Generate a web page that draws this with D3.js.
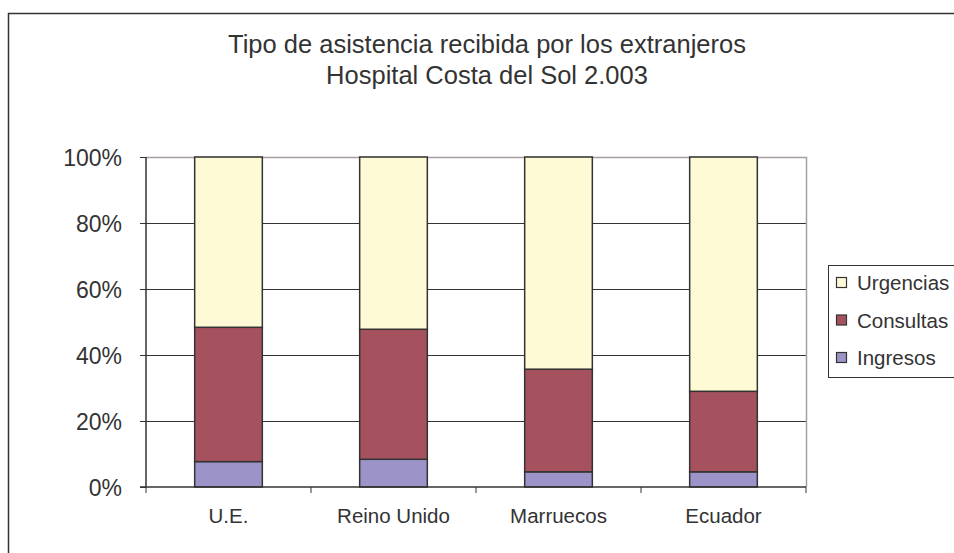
<!DOCTYPE html>
<html><head><meta charset="utf-8">
<script src="https://cdn.jsdelivr.net/npm/d3@7"></script>
<style>body{margin:0;background:#fff}svg{display:block}text{font-family:"Liberation Sans",Arial,sans-serif;fill:#333}</style>
</head><body>
<script>
const categories = ["U.E.", "Reino Unido", "Marruecos", "Ecuador"];
const seriesNames = ["Ingresos", "Consultas", "Urgencias"];
const ingresos = [7.7, 8.4, 4.6, 4.6];
const consultas = [40.7, 39.4, 31.1, 24.4];
const urgencias = [51.6, 52.2, 64.3, 71.0];
const yTicks = [0, 0.2, 0.4, 0.6, 0.8, 1.0];
const titleLines = ["Tipo de asistencia recibida por los extranjeros", "Hospital Costa del Sol 2.003"];
const colors = {"Ingresos": "#9c94c8", "Consultas": "#a5525e", "Urgencias": "#fffad6"};

const W = 954, H = 553;
const svg = d3.select("body").append("svg").attr("width", W).attr("height", H);

// outer frame
svg.append("rect").attr("x", 8.5).attr("y", 13.5).attr("width", 1000).attr("height", 600)
  .attr("fill", "#fff").attr("stroke", "#333").attr("stroke-width", 1.5);

const m = {left: 146, right: 806, top: 157, bottom: 487};
const x = d3.scaleBand().domain(categories).range([m.left, m.right]).paddingInner(0.59).paddingOuter(0.295);
const xb = d3.scaleBand().domain(categories).range([m.left, m.right]);
const y = d3.scaleLinear().domain([0, 1]).range([m.bottom, m.top]);

// gridlines
svg.append("g").selectAll("line").data(yTicks.slice(1, -1)).join("line")
  .attr("x1", m.left).attr("x2", m.right).attr("y1", d => y(d) + 0.5).attr("y2", d => y(d) + 0.5)
  .attr("stroke", "#333").attr("stroke-width", 1);

// plot border top/right
svg.append("path").attr("d", `M${m.left},${m.top + 0.5}H${m.right + 0.5}V${m.bottom}`)
  .attr("fill", "none").attr("stroke", "#a69e9e").attr("stroke-width", 1.5);

// stacked data
const rows = categories.map((c, i) => ({cat: c, Ingresos: ingresos[i] / 100, Consultas: consultas[i] / 100, Urgencias: urgencias[i] / 100}));
const stack = d3.stack().keys(seriesNames)(rows);
svg.append("g").selectAll("g").data(stack).join("g").attr("fill", d => colors[d.key])
  .selectAll("rect").data(d => d).join("rect")
  .attr("x", d => x(d.data.cat)).attr("width", x.bandwidth())
  .attr("y", d => y(d[1])).attr("height", d => y(d[0]) - y(d[1]))
  .attr("stroke", "#333").attr("stroke-width", 1.5);

// y axis
const yAxis = d3.axisLeft(y).tickValues(yTicks).tickFormat(d3.format(".0%")).tickSize(6).tickPadding(18);
const gy = svg.append("g").attr("transform", `translate(${m.left},0)`).call(yAxis);
gy.select(".domain").attr("stroke", "#333").attr("stroke-width", 1.5).attr("d", `M0,${m.top}V${m.bottom}`);
gy.selectAll(".tick line").attr("stroke", "#333");
gy.selectAll("text").attr("font-size", "23px").attr("font-family", "Liberation Sans, Arial").attr("fill", "#333").attr("dy", "0.36em");

// x axis
const gx = svg.append("g").attr("transform", `translate(0,${m.bottom})`);
gx.append("line").attr("x1", m.left - 6).attr("x2", m.right).attr("y1", 0).attr("y2", 0).attr("stroke", "#333").attr("stroke-width", 1.5);
const bounds = categories.map(c => xb(c)).concat([m.right]);
gx.selectAll("line.tk").data(bounds).join("line").attr("class", "tk")
  .attr("x1", d => d).attr("x2", d => d).attr("y1", 0).attr("y2", 6).attr("stroke", "#333");
gx.selectAll("text").data(categories).join("text")
  .attr("x", d => xb(d) + xb.bandwidth() / 2).attr("y", 36)
  .attr("text-anchor", "middle").attr("font-size", "20.5px").text(d => d);

// title
svg.append("g").selectAll("text").data(titleLines).join("text")
  .attr("x", 487).attr("y", (d, i) => 53 + i * 31).attr("text-anchor", "middle")
  .attr("font-size", "25.5px").text(d => d);

// legend
const lg = svg.append("g");
lg.append("rect").attr("x", 828.5).attr("y", 265.5).attr("width", 200).attr("height", 112)
  .attr("fill", "#fff").attr("stroke", "#333").attr("stroke-width", 1);
const legendOrder = ["Urgencias", "Consultas", "Ingresos"];
const li = lg.selectAll("g").data(legendOrder).join("g").attr("transform", (d, i) => `translate(0,${i * 37.5})`);
li.append("rect").attr("x", 836.5).attr("y", 277.5).attr("width", 10).attr("height", 10)
  .attr("fill", d => colors[d]).attr("stroke", "#333").attr("stroke-width", 1.2);
li.append("text").attr("x", 857).attr("y", 290).attr("font-size", "20.5px").text(d => d);
</script>
</body></html>
